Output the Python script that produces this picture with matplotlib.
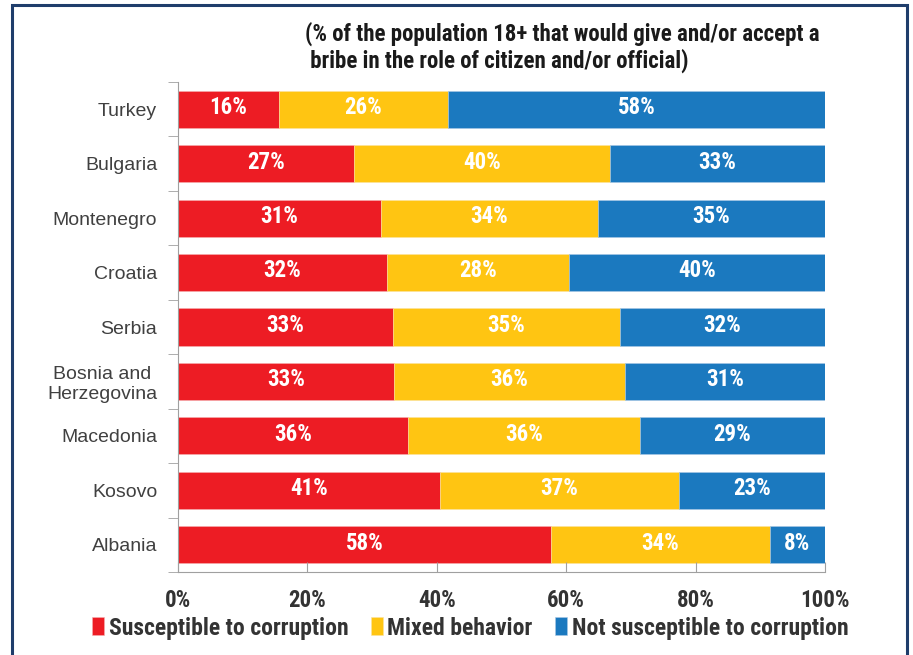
import matplotlib.pyplot as plt
from matplotlib.patches import Rectangle
from matplotlib.ticker import FuncFormatter
import numpy as np

countries = ["Turkey", "Bulgaria", "Montenegro", "Croatia", "Serbia",
             "Bosnia and\nHerzegovina", "Macedonia", "Kosovo", "Albania"]
susceptible = [15.6, 27.2, 31.4, 32.3, 33.2, 33.4, 35.5, 40.5, 57.6]
mixed = [26.1, 39.6, 33.5, 28.1, 35.1, 35.7, 35.9, 36.9, 33.9]
not_susceptible = [58.3, 33.2, 35.1, 39.6, 31.7, 30.9, 28.6, 22.6, 8.5]
labels_sus = ["16%", "27%", "31%", "32%", "33%", "33%", "36%", "41%", "58%"]
labels_mix = ["26%", "40%", "34%", "28%", "35%", "36%", "36%", "37%", "34%"]
labels_not = ["58%", "33%", "35%", "40%", "32%", "31%", "29%", "23%", "8%"]

NARROW = ["Roboto Condensed", "Roboto", "DejaVu Sans"]
REG = ["Liberation Sans", "DejaVu Sans"]
red, yellow, blue = "#ED1C24", "#FFC512", "#1B79BF"

fig = plt.figure(figsize=(9.13, 6.55), dpi=100)
ax = fig.add_axes([0.195, 0.1267, 0.7086, 0.7481])

y = np.arange(len(countries))
h = 0.68
sus = np.array(susceptible)
mix = np.array(mixed)
nots = np.array(not_susceptible)

ax.barh(y, sus, height=h, color=red, edgecolor="#f5b0b0", linewidth=0.4,
        label="Susceptible to corruption")
ax.barh(y, mix, left=sus, height=h, color=yellow, edgecolor="#fbe3a0",
        linewidth=0.4, label="Mixed behavior")
ax.barh(y, nots, left=sus + mix, height=h, color=blue, edgecolor="#a9c8e6",
        linewidth=0.4, label="Not susceptible to corruption")

for i in range(len(countries)):
    for left, w, lab in [(0, sus[i], labels_sus[i]),
                         (sus[i], mix[i], labels_mix[i]),
                         (sus[i] + mix[i], nots[i], labels_not[i])]:
        ax.text(left + w / 2, y[i] - 0.03, lab, ha="center", va="center",
                color="white", fontsize=16.5, fontweight="bold", family=NARROW)

ax.set_xlim(0, 100)
ax.set_ylim(len(countries) - 0.5, -0.5)
ax.set_xticks([0, 20, 40, 60, 80, 100])
ax.xaxis.set_major_formatter(FuncFormatter(lambda v, p: f"{v:.0f}%"))
ax.set_yticks(y)
ax.set_yticklabels(countries)
ax.set_yticks(np.arange(-0.5, len(countries), 1), minor=True)
ax.tick_params(axis="y", which="major", length=0, pad=15, labelsize=14,
               labelcolor="#404040")
ax.tick_params(axis="y", which="minor", length=7, color="#a0a0a0",
               direction="out")
ax.tick_params(axis="x", length=7, color="#a0a0a0", direction="in",
               labelsize=16.5, labelcolor="#333333", pad=12)
for lab in ax.get_yticklabels():
    lab.set_family(REG)
    lab.set_multialignment("center")
for lab in ax.get_xticklabels():
    lab.set_family(NARROW)
    lab.set_fontweight("bold")

ax.spines["top"].set_visible(False)
ax.spines["right"].set_visible(False)
ax.spines["left"].set_color("#a0a0a0")
ax.spines["bottom"].set_color("#a0a0a0")

leg = fig.legend(loc="center", bbox_to_anchor=(0.515, 0.041), ncol=3,
                 frameon=False, handlelength=0.5, handleheight=0.8,
                 handletextpad=0.2, columnspacing=0.95,
                 prop={"family": NARROW, "size": 17, "weight": "bold"})
for t in leg.get_texts():
    t.set_color("#333333")

fig.text(0.334, 0.949, "(% of the population 18+ that would give and/or accept a",
         fontsize=16.5, fontweight="bold", family=NARROW, va="center", color="#1a1a1a")
fig.text(0.334, 0.907, " bribe in the role of citizen and/or official)",
         fontsize=16.5, fontweight="bold", family=NARROW, va="center", color="#1a1a1a")

fig.patches.append(Rectangle((12 / 913, -0.05), 895 / 913, 1.05 - 5 / 655,
                             transform=fig.transFigure, fill=False,
                             edgecolor="#1F3D6B", linewidth=2.2))

fig.savefig("out.png", dpi=100)
